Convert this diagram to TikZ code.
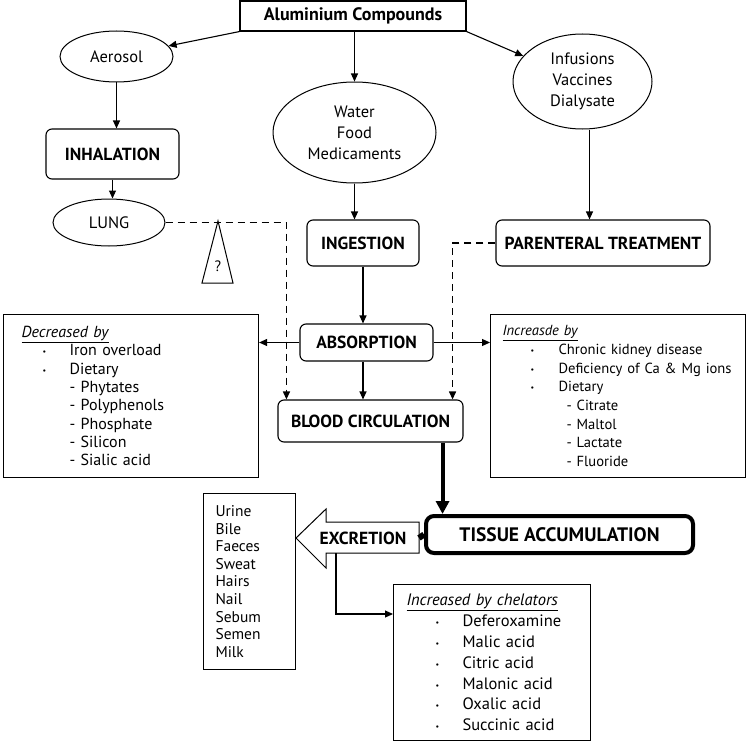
\documentclass[tikz,border=0pt]{standalone}
\usepackage{fontspec}
\setmainfont{PT Sans}
\usetikzlibrary{arrows.meta,shapes.geometric}
\newcommand{\dotitem}[2]{\hspace*{#1}\makebox[#2][l]{\raisebox{1pt}{\fontsize{8}{8}\selectfont\textbullet}}}

\begin{document}
\begin{tikzpicture}[x=1pt,y=-1pt,
  every node/.style={font=\fontsize{16}{19}\selectfont},
  arr/.style={line width=1.1pt,-{Triangle[length=8pt,width=7pt]}},
  dasharr/.style={arr,line width=1.3pt,dash pattern=on 7pt off 5pt},
  rbox/.style={draw,line width=1.1pt,rounded corners=6pt,font=\fontsize{17.5}{20}\selectfont\bfseries},
  oval/.style={draw,ellipse,line width=1pt,inner sep=0pt,align=center,font=\fontsize{16.5}{21}\selectfont},
  listbox/.style={draw,line width=1.1pt,anchor=north west,align=left}]
\useasboundingbox (0,0) rectangle (746,741);

\node[draw,line width=1.1pt,minimum width=226pt,minimum height=30pt,font=\fontsize{18}{20}\selectfont\bfseries] (al) at (353,16) {Aluminium Compounds};

\node[oval,minimum width=113pt,minimum height=51pt] (aero) at (116.5,56.5) {Aerosol};
\node[oval,minimum width=163pt,minimum height=101pt] (water) at (354.5,132.5) {Water\\Food\\Medicaments};
\node[oval,minimum width=139pt,minimum height=95pt] (inf) at (582.5,81.5) {Infusions\\Vaccines\\Dialysate};
\node[oval,minimum width=112pt,minimum height=47pt] (lung) at (109,222.5) {LUNG};

\node[rbox,minimum width=133pt,minimum height=50pt] (inh) at (112.5,154) {INHALATION};
\node[rbox,minimum width=112pt,minimum height=46pt] (ing) at (363,243) {INGESTION};
\node[rbox,minimum width=214pt,minimum height=46pt] (par) at (603,243) {PARENTERAL TREATMENT};
\node[rbox,minimum width=133pt,minimum height=37pt] (abs) at (366.5,342.5) {ABSORPTION};
\node[rbox,minimum width=185pt,minimum height=42pt] (blood) at (370.5,421) {BLOOD CIRCULATION};
\node[rbox,line width=4pt,rounded corners=8pt,minimum width=267pt,minimum height=37pt,font=\fontsize{19.5}{22}\selectfont\bfseries] (tissue) at (559.5,534.5) {TISSUE ACCUMULATION};

\node[listbox,minimum width=255pt,minimum height=163pt,inner xsep=18pt,text width=219pt,font=\fontsize{16}{18.3}\selectfont] (dec) at (3,314) {\underline{\textit{Decreased by}}\\
  \dotitem{21pt}{27pt}Iron overload\\
  \dotitem{21pt}{27pt}Dietary\\
  \hspace*{48pt}- Phytates\\
  \hspace*{48pt}- Polyphenols\\
  \hspace*{48pt}- Phosphate\\
  \hspace*{48pt}- Silicon\\
  \hspace*{48pt}- Sialic acid};
\node[listbox,minimum width=255pt,minimum height=163pt,inner xsep=12pt,text width=231pt,font=\fontsize{14.6}{18.7}\selectfont] (inc) at (490,314) {\underline{\textit{Increasde by}}\\
  \dotitem{28pt}{28pt}Chronic kidney disease\\
  \dotitem{28pt}{28pt}\mbox{Deficiency of Ca \& Mg ions}\\
  \dotitem{28pt}{28pt}Dietary\\
  \hspace*{64pt}- Citrate\\
  \hspace*{64pt}- Maltol\\
  \hspace*{64pt}- Lactate\\
  \hspace*{64pt}- Fluoride};
\node[listbox,minimum width=92pt,minimum height=176pt,inner xsep=12pt,text width=68pt,font=\fontsize{15.5}{17.6}\selectfont] (out) at (203,493) {Urine\\Bile\\Faeces\\Sweat\\Hairs\\Nail\\Sebum\\Semen\\Milk};
\node[listbox,minimum width=197pt,minimum height=156pt,inner xsep=13pt,text width=171pt,font=\fontsize{16.5}{20.8}\selectfont] (chel) at (393,584) {\underline{\textit{Increased by chelators}}\\
  \dotitem{29pt}{27pt}Deferoxamine\\
  \dotitem{29pt}{27pt}Malic acid\\
  \dotitem{29pt}{27pt}Citric acid\\
  \dotitem{29pt}{27pt}Malonic acid\\
  \dotitem{29pt}{27pt}Oxalic acid\\
  \dotitem{29pt}{27pt}Succinic acid};

\draw[line width=1pt] (419,522) -- (326,522) -- (326,509) -- (296,538) -- (326,568) -- (326,553) -- (419,553) -- cycle;
\node[font=\fontsize{17.5}{20}\selectfont\bfseries] (excr) at (363,538) {EXCRETION};
\coordinate (extail) at (419,538);
\coordinate (exfoot) at (336,553);

\draw[line width=1pt] (218,221) -- (233,283) -- (202,283) -- cycle;
\node[font=\fontsize{15}{17}\selectfont] (qmark) at (218,266) {?};

\draw[arr] (al.south west) -- (aero);
\draw[arr] (al.south -| water) -- (water.north);
\draw[arr] (al.south east) -- (inf);
\draw[arr] (aero.south) -- (aero.south |- inh.north);
\draw[arr] (inh.south) -- (inh.south |- lung.north);
\draw[arr] (water.south) -- (water.south |- ing.north);
\draw[arr] ([xshift=7pt]inf.south) -- ([xshift=7pt]inf.south |- par.north);
\draw[arr] (ing.south) -- (ing.south |- abs.north);
\draw[arr] (ing.south |- abs.south) -- (ing.south |- blood.north);
\draw[arr] (abs.west) -- (abs.west -| dec.east);
\draw[arr] (abs.east) -- (abs.east -| inc.west);
\draw[dasharr] (lung.east) -| ([xshift=9pt]blood.north west);
\draw[dasharr] (par.west) -| ([xshift=-11pt]blood.north east);
\draw[line width=4pt,-{Triangle[length=13pt,width=13pt]}] ([xshift=-21pt]blood.south east) -- ([xshift=-21pt]blood.south east |- tissue.north);
\draw[line width=6pt] (extail) -- (tissue.west);
\draw[arr] (exfoot) |- ([yshift=-30pt]chel.north west);
\end{tikzpicture}
\end{document}
